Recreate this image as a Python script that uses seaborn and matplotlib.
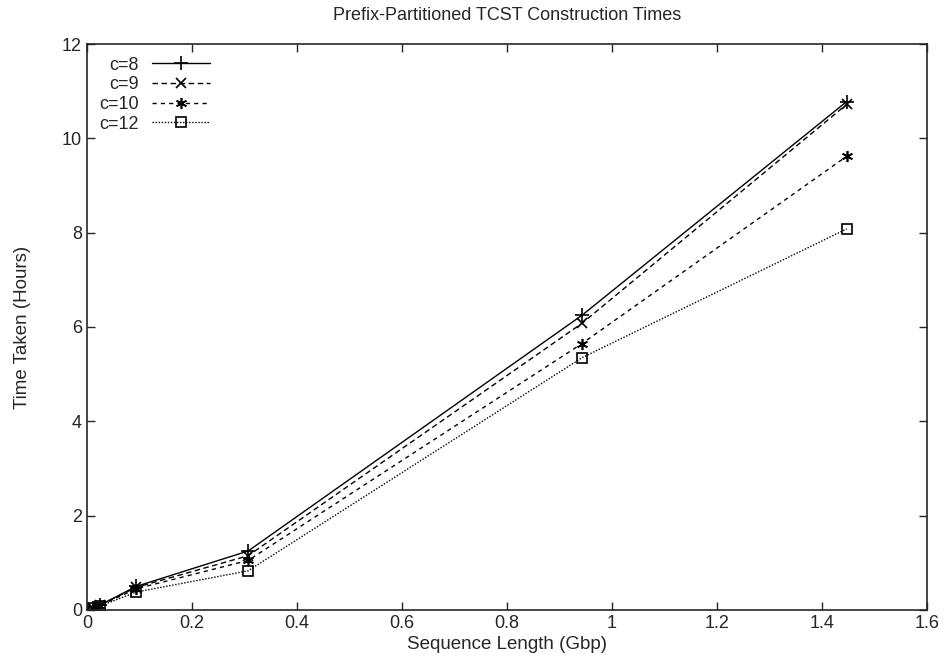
import pandas as pd
import matplotlib
matplotlib.use("Agg")
import matplotlib.pyplot as plt
import seaborn as sns
from matplotlib.ticker import MultipleLocator, FuncFormatter

# data
seq_len = [0.012, 0.024, 0.094, 0.307, 0.943, 1.447]
c8 = [0.05, 0.10, 0.50, 1.25, 6.25, 10.78]
c9 = [0.05, 0.10, 0.48, 1.15, 6.08, 10.72]
c10 = [0.05, 0.09, 0.45, 1.05, 5.65, 9.62]
c12 = [0.04, 0.08, 0.38, 0.83, 5.35, 8.08]
labels = ["c=8", "c=9", "c=10", "c=12"]

sns.set_style("ticks")
plt.rcParams['font.family'] = ['Liberation Sans', 'DejaVu Sans']

fig = plt.figure(figsize=(9.45, 6.7), dpi=100)
ax = fig.add_axes([0.092, 0.0896, 0.889, 0.8447])

styles = [
    dict(linestyle='-', marker='+', markersize=10),
    dict(linestyle=(0, (4, 2.5)), marker='x', markersize=7),
    dict(linestyle=(0, (3, 3)), marker=(6, 2, 0), markersize=8),
    dict(linestyle=(0, (1, 1.2)), marker='s', markersize=6.5, markerfacecolor='none'),
]

for vals, lab, st in zip([c8, c9, c10, c12], labels, styles):
    df = pd.DataFrame({"x": seq_len, "y": vals})
    sns.lineplot(data=df, x="x", y="y", ax=ax, color='black', linewidth=1.0,
                 markeredgecolor='black', markeredgewidth=1.2, label=lab, **st)

ax.set_xlim(0, 1.6)
ax.set_ylim(0, 12)
ax.xaxis.set_major_locator(MultipleLocator(0.2))
ax.yaxis.set_major_locator(MultipleLocator(2))
ax.xaxis.set_major_formatter(FuncFormatter(lambda v, p: f"{v:g}"))
ax.tick_params(direction='in', top=True, right=True, length=6, width=1, labelsize=13)
for s in ax.spines.values():
    s.set_linewidth(1.2)

ax.set_xlabel("Sequence Length (Gbp)", fontsize=13.5, labelpad=3)
ax.set_ylabel("Time Taken (Hours)", fontsize=13.5, labelpad=22)
ax.set_title("Prefix-Partitioned TCST Construction Times", fontsize=13, pad=17)

ax.legend(loc='upper left', markerfirst=False, frameon=False, fontsize=13,
          handlelength=3.2, borderaxespad=0.3, labelspacing=0.15, handletextpad=0.7,
          borderpad=0.4)
for t in ax.get_legend().get_texts():
    t.set_ha('right')
ax.get_legend()._legend_box.align = "right"

fig.savefig("out.png", dpi=100)
